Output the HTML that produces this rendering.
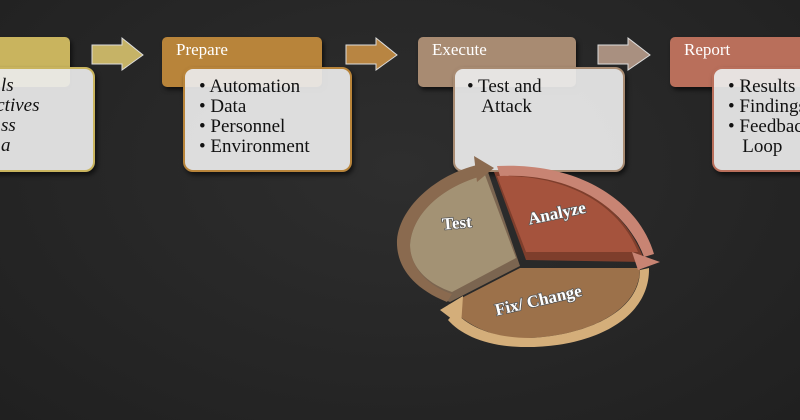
<!DOCTYPE html>
<html><head><meta charset="utf-8"><style>
body{margin:0;width:800px;height:420px;overflow:hidden;background:#252525;font-family:"Liberation Serif",serif;}
.abs{position:absolute}
.hdr{position:absolute;height:50px;border-radius:5px;color:#fff;font-size:17px;padding:3px 0 0 14px;box-sizing:border-box;box-shadow:2px 3px 4px rgba(0,0,0,.6)}
.tb{position:absolute;top:67px;height:105px;background:rgba(235,235,235,.93);border-radius:10px;box-shadow:2px 3px 5px rgba(0,0,0,.6);font-size:19px;color:#111;line-height:20px;box-sizing:border-box;white-space:nowrap;overflow:hidden}
</style></head><body>
<div style="position:absolute;inset:0;background:radial-gradient(ellipse at 50% 40%,#2e2e2e,#202020)"></div>

<div class="hdr" style="left:-10px;top:37px;width:80px;background:#c9b45e"></div>
<div class="tb" style="left:-20px;width:115px;border:2px solid #c9b45e;padding:7px 0 0 0"><i>&nbsp;&nbsp;&nbsp;&nbsp;ls<br>&nbsp;&nbsp;&nbsp;ctives<br>&nbsp;&nbsp;&nbsp;&nbsp;ss<br>&nbsp;&nbsp;&nbsp;&nbsp;a</i></div>

<div class="hdr" style="left:162px;top:37px;width:160px;background:#b8843a">Prepare</div>
<div class="tb" style="left:183px;width:169px;border:2px solid #b8843a;padding:8px 0 0 14px">• Automation<br>• Data<br>• Personnel<br>• Environment</div>

<div class="hdr" style="left:418px;top:37px;width:158px;background:#a88b72">Execute</div>
<div class="tb" style="left:453px;width:172px;border:2px solid #a88b72;padding:8px 0 0 12px">• Test and<br>&nbsp;&nbsp;&nbsp;Attack</div>

<div class="hdr" style="left:670px;top:37px;width:140px;background:#b96f5b">Report</div>
<div class="tb" style="left:712px;width:100px;border:2px solid #b96f5b;padding:8px 0 0 14px">• Results<br>• Findings<br>• Feedback<br>&nbsp;&nbsp;&nbsp;Loop</div>

<svg class="abs" style="left:0;top:0" width="800" height="420">
<polygon points="92,45 122,45 122,38 143,55 122,70 122,64 92,64" fill="#c6b366" stroke="#ddd" stroke-width="1"/>
<polygon points="346,45 376,45 376,38 397,55 376,70 376,64 346,64" fill="#b88542" stroke="#ddd" stroke-width="1"/>
<polygon points="598,45 628,45 628,38 650,55 628,70 628,64 598,64" fill="#a99080" stroke="#ddd" stroke-width="1"/>

<!-- Fix/Change -->
<path d="M520,268 L640,268 C640,310 590,335 530,338 C495,340 465,325 448,305 Z" fill="#9c714a"/>
<path d="M640,270 L649,268 C650,318 595,346 530,347 C490,348 462,336 448,320 L455,312 C470,328 495,338 530,338 C590,335 640,310 640,270Z" fill="#d4ae7a"/>
<polygon points="440,310 463,296 461,326" fill="#d4ae7a"/>
<!-- Test -->
<path d="M520,266 L488,172 C445,182 405,212 403,248 C403,272 422,292 450,302 Z" fill="#7b6550"/>
<path d="M516,258 L485,175 C445,185 412,212 410,245 C410,265 425,283 452,292 Z" fill="#a39274"/>
<path d="M447,302 C410,287 396,264 397,240 C400,205 440,172 482,164 L482,176 C445,186 412,212 410,245 C410,265 425,285 452,294 Z" fill="#8a6a4f"/>
<polygon points="474,156 494,168 477,182" fill="#8a6a4f"/>
<!-- Analyze -->
<path d="M526,260 L494,172 C570,170 625,205 645,262 Z" fill="#7e3e2c"/>
<path d="M526,252 L497,176 C568,174 620,206 638,252 Z" fill="#a5533d"/>
<path d="M497,166 C578,162 638,200 654,254 L644,257 C626,208 572,172 500,176 Z" fill="#c88473"/>
<polygon points="632,252 660,262 638,270" fill="#c88473"/>

<g font-weight="bold" font-size="17" fill="#fff" font-family="Liberation Serif,serif" style="paint-order:stroke" stroke="#555" stroke-width="1.5">
<text x="442" y="228" transform="rotate(-5 462 222)">Test</text>
<text x="527" y="218" transform="rotate(-12 560 210)">Analyze</text>
<text x="492" y="304" transform="rotate(-13 545 290)">Fix/ Change</text>
</g>
</svg>
</body></html>
